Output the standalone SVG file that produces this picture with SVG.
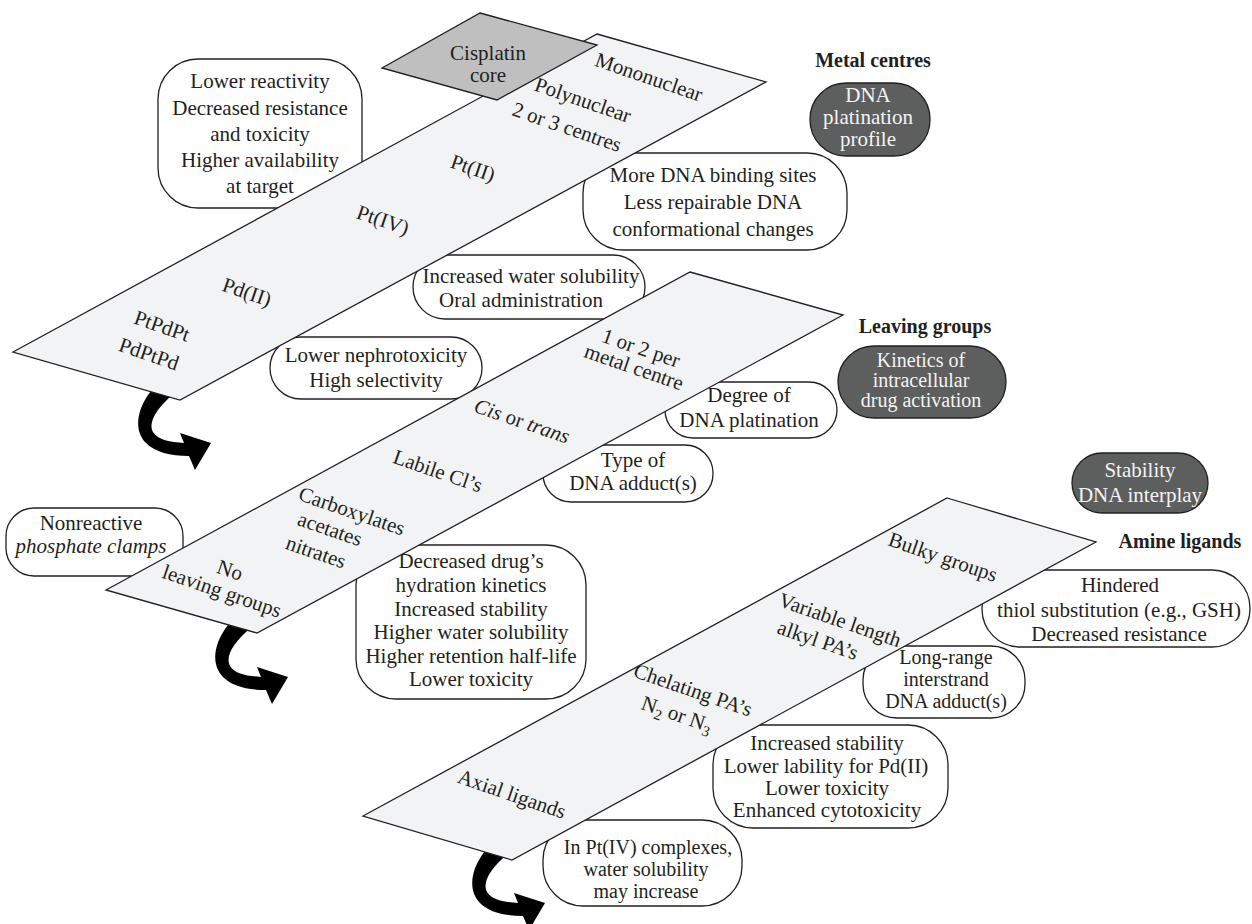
<svg xmlns="http://www.w3.org/2000/svg" width="1252" height="924" viewBox="0 0 1252 924">
<style>
.box{fill:#fff;stroke:#231f20;stroke-width:1.3}
.dark{fill:#5d5e5e;stroke:#231f20;stroke-width:1.3}
.plane{fill:#f2f3f5;stroke:#231f20;stroke-width:1.3}
.core{fill:#bfbfbf;stroke:#231f20;stroke-width:1.3}
text{font-family:"Liberation Serif","Times New Roman",serif;font-size:21px;fill:#231f20;text-anchor:middle}
.w{fill:#f4f4f4}
.k{font-size:20px}
.b{font-weight:bold;font-size:20px}
.i{font-style:italic}
.arrow{fill:#000}
</style>
<defs>
<path id="curl" class="arrow" d="M 151,391 C 136,410 134,431 146,443 C 155,452 170,456 189,456 L 195,470 L 211,443 L 180,433 L 184,443 C 170,442 158,440 153,432 C 148,423 156,408 175,393 Z"/>
</defs>
<rect width="1252" height="924" fill="#fff"/>

<g id="labels">
<text class="b" x="873" y="67">Metal centres</text>
<text class="b" x="925" y="333">Leaving groups</text>
<text class="b" x="1180" y="548">Amine ligands</text>
</g>

<g id="box-lower-reactivity">
<rect class="box" x="158" y="59" width="204" height="149" rx="40"/>
<text x="260" y="88">Lower reactivity</text>
<text x="260" y="115">Decreased resistance</text>
<text x="260" y="141">and toxicity</text>
<text x="260" y="167">Higher availability</text>
<text x="260" y="193">at target</text>
</g>
<g id="box-more-dna">
<rect class="box" x="583" y="153" width="264" height="97" rx="40"/>
<text x="713" y="182">More DNA binding sites</text>
<text x="713" y="209">Less repairable DNA</text>
<text x="713" y="236">conformational changes</text>
</g>
<g id="box-water">
<rect class="box" x="413" y="255" width="232" height="64" rx="32"/>
<text x="531" y="283">Increased water solubility</text>
<text x="521" y="307">Oral administration</text>
</g>
<g id="box-nephro">
<rect class="box" x="270" y="337" width="212" height="62" rx="31"/>
<text x="376" y="362">Lower nephrotoxicity</text>
<text x="376" y="387">High selectivity</text>
</g>
<g id="box-degree">
<rect class="box" x="665" y="382" width="172" height="56" rx="28"/>
<text x="749" y="402">Degree of</text>
<text x="749" y="427">DNA platination</text>
</g>
<g id="box-type">
<rect class="box" x="543" y="445" width="170" height="57" rx="28"/>
<text x="633" y="467">Type of</text>
<text x="633" y="490">DNA adduct(s)</text>
</g>
<g id="box-hydration">
<rect class="box" x="356" y="545" width="230" height="154" rx="40"/>
<text x="471" y="568">Decreased drug’s</text>
<text x="471" y="592">hydration kinetics</text>
<text x="471" y="616">Increased stability</text>
<text x="471" y="639">Higher water solubility</text>
<text x="471" y="663">Higher retention half-life</text>
<text x="471" y="686">Lower toxicity</text>
</g>
<g id="box-nonreactive">
<rect class="box" x="6" y="508" width="177" height="68" rx="28"/>
<text x="91" y="530">Nonreactive</text>
<text class="i" x="91" y="553">phosphate clamps</text>
</g>
<g id="box-hindered">
<rect class="box" x="982" y="570" width="268" height="77" rx="38"/>
<text x="1120" y="592">Hindered</text>
<text x="1119" y="617">thiol substitution (e.g., GSH)</text>
<text x="1119" y="641">Decreased resistance</text>
</g>
<g id="box-longrange">
<rect class="box" x="863" y="646" width="162" height="72" rx="34"/>
<text class="k" x="946" y="664">Long-range</text>
<text class="k" x="946" y="686">interstrand</text>
<text class="k" x="946" y="708">DNA adduct(s)</text>
</g>
<g id="box-stability">
<rect class="box" x="713" y="725" width="235" height="103" rx="40"/>
<text x="827" y="750">Increased stability</text>
<text x="826" y="773">Lower lability for Pd(II)</text>
<text x="827" y="795">Lower toxicity</text>
<text x="827" y="817">Enhanced cytotoxicity</text>
</g>
<g id="box-ptiv">
<rect class="box" x="543" y="820" width="199" height="86" rx="40"/>
<text class="k" x="648" y="854">In Pt(IV) complexes,</text>
<text class="k" x="646" y="876">water solubility</text>
<text class="k" x="646" y="898">may increase</text>
</g>

<g id="dark-platination">
<rect class="dark" x="810" y="83" width="120" height="73" rx="36"/>
<text class="w" x="868" y="102">DNA</text>
<text class="w" x="868" y="124">platination</text>
<text class="w" x="868" y="146">profile</text>
</g>
<g id="dark-kinetics">
<rect class="dark" x="838" y="346" width="168" height="72" rx="36"/>
<text class="w k" x="921" y="367">Kinetics of</text>
<text class="w k" x="921" y="387">intracellular</text>
<text class="w k" x="921" y="407">drug activation</text>
</g>
<g id="dark-stability">
<rect class="dark" x="1072" y="453" width="136" height="60" rx="30"/>
<text class="w" x="1140" y="477">Stability</text>
<text class="w" x="1140" y="502">DNA interplay</text>
</g>

<g id="connectors">
<use href="#curl"/>
<use href="#curl" transform="translate(77,234)"/>
<use href="#curl" transform="translate(334,460)"/>
</g>

<g id="plane-metal">
<polygon class="plane" points="597,34 766,82 180,400 13,352"/>
<text transform="translate(649,77) rotate(19)" y="7">Mononuclear</text>
<text transform="translate(583,100) rotate(19)" y="7">Polynuclear</text>
<text transform="translate(567,127) rotate(19)" y="7">2 or 3 centres</text>
<text transform="translate(473,168) rotate(19)" y="7">Pt(II)</text>
<text transform="translate(383,220) rotate(19)" y="7">Pt(IV)</text>
<text transform="translate(247,292) rotate(19)" y="7">Pd(II)</text>
<text transform="translate(162,326) rotate(19)" y="7">PtPdPt</text>
<text transform="translate(149,354) rotate(19)" y="7">PdPtPd</text>
</g>
<g id="cisplatin-core">
<polygon class="core" points="480,13 597,45 497,100 382,68"/>
<text x="488" y="60">Cisplatin</text>
<text x="488" y="82">core</text>
</g>

<g id="plane-leaving">
<polygon class="plane" points="690,272 843,315 257,633 106,590"/>
<text transform="translate(641,348) rotate(19)" y="7">1 or 2 per</text>
<text transform="translate(634,367) rotate(19)" y="7">metal centre</text>
<text transform="translate(522,421) rotate(19)" y="7"><tspan class="i">Cis</tspan> or <tspan class="i">trans</tspan></text>
<text transform="translate(438,471) rotate(19)" y="7">Labile Cl’s</text>
<text transform="translate(352,511) rotate(19)" y="7">Carboxylates</text>
<text transform="translate(330,529) rotate(19)" y="7">acetates</text>
<text transform="translate(316,552) rotate(19)" y="7">nitrates</text>
<text transform="translate(230,570) rotate(19)" y="7">No</text>
<text transform="translate(222,591) rotate(19)" y="7">leaving groups</text>
</g>

<g id="plane-amine">
<polygon class="plane" points="947,498 1096,542 512,860 363,816"/>
<text transform="translate(943,557) rotate(19)" y="7">Bulky groups</text>
<text transform="translate(840,620) rotate(19)" y="7">Variable length</text>
<text transform="translate(818,640) rotate(19)" y="7">alkyl PA’s</text>
<text transform="translate(693,690) rotate(19)" y="7">Chelating PA’s</text>
<text transform="translate(677,714) rotate(19)" y="7">N<tspan dy="5" font-size="15">2</tspan><tspan dy="-5"> or N</tspan><tspan dy="5" font-size="15">3</tspan></text>
<text transform="translate(512,794) rotate(19)" y="7">Axial ligands</text>
</g>
</svg>
